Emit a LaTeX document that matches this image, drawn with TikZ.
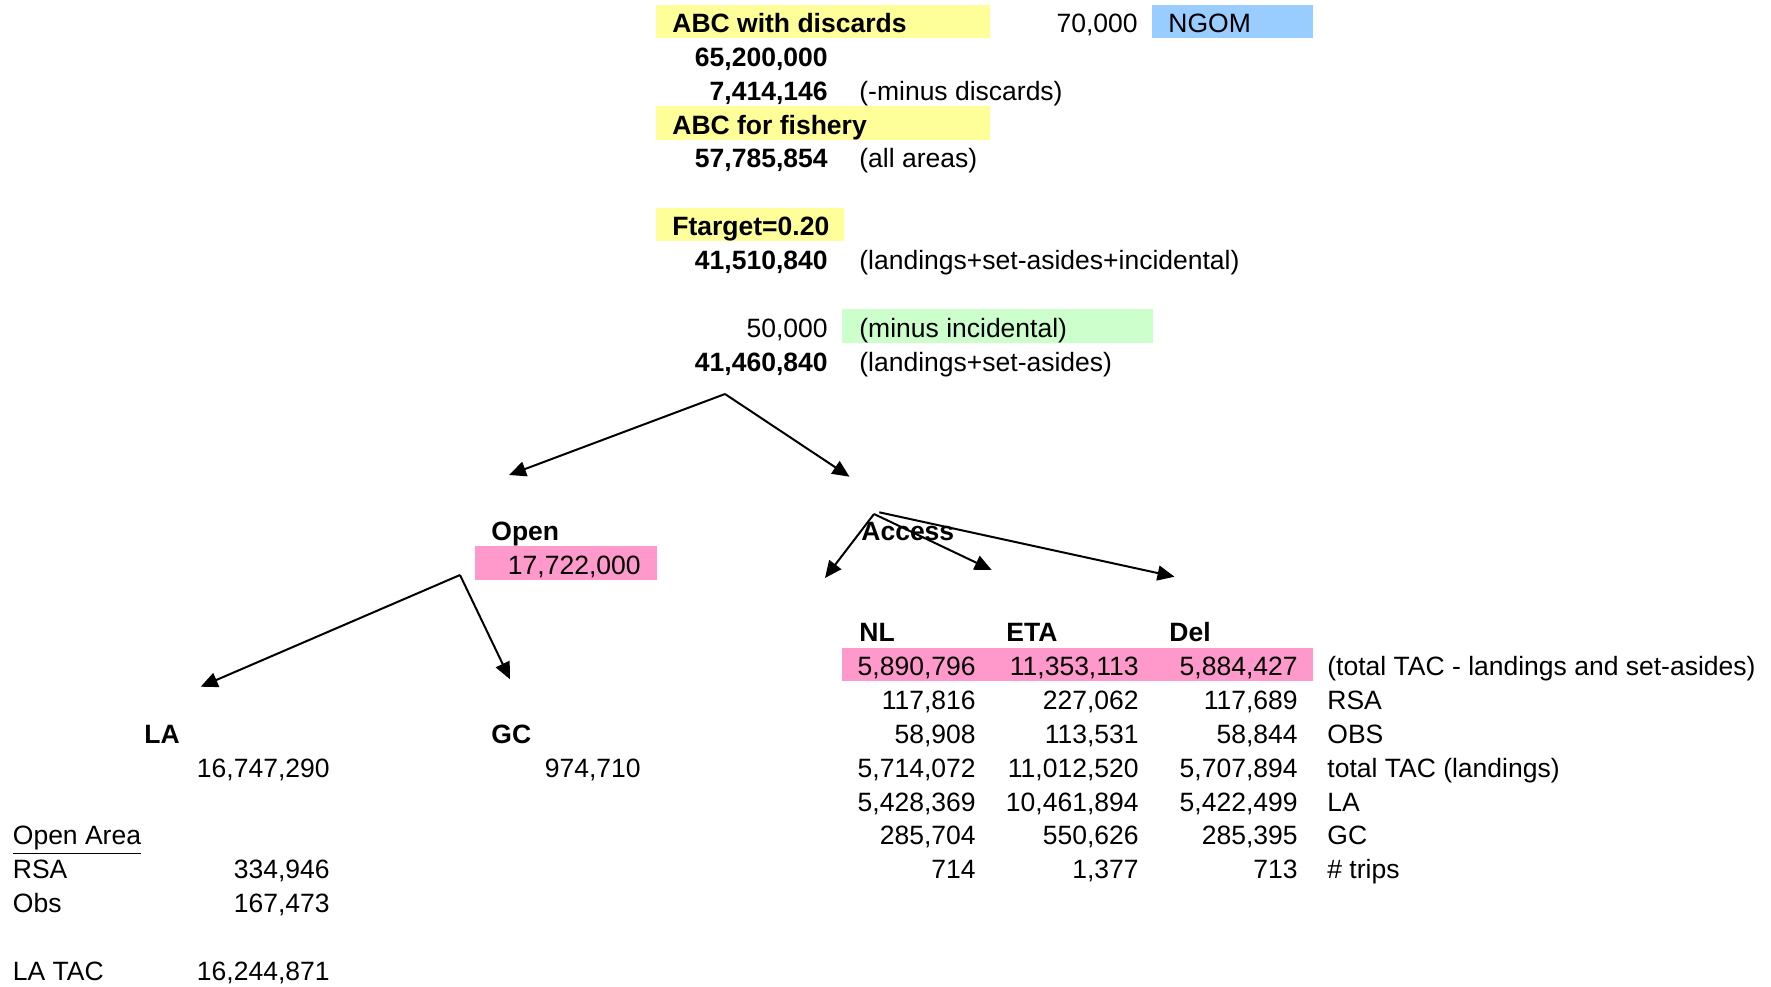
\documentclass[tikz,border=0pt]{standalone}
\usepackage{fontspec}
\setmainfont{Liberation Sans}
\usetikzlibrary{arrows.meta}
\definecolor{abcyel}{HTML}{FFFF99}
\definecolor{ngomblue}{HTML}{99CCFF}
\definecolor{incgreen}{HTML}{CCFFCC}
\definecolor{tacpink}{HTML}{FF99CC}
\newcommand\cellfont{\fontsize{13.25pt}{16pt}\selectfont}

\begin{document}
\begin{tikzpicture}[x=0.5pt,y=-0.5pt, font=\cellfont,
    every node/.style={inner sep=0pt},
    num/.style={anchor=base east},
    bnum/.style={anchor=base east, font=\cellfont\bfseries},
    lbl/.style={anchor=base west},
    hd/.style={anchor=base west, font=\cellfont\bfseries},
    arr/.style={-{Triangle[length=8.5pt,width=7.5pt]}, line width=1pt}]
  \useasboundingbox (0,0) rectangle (1771,986);
  % highlighted cells
  \fill[abcyel] (656,4.5) rectangle (990,38);
  \fill[ngomblue] (1152,4.5) rectangle (1313,38);
  \fill[abcyel] (656,106) rectangle (990,139.6);
  \fill[abcyel] (656,207.6) rectangle (844,241);
  \fill[incgreen] (842,309) rectangle (1153,342.7);
  \fill[tacpink] (474.5,546) rectangle (656.5,579.6);
  \fill[tacpink] (842,647.7) rectangle (1313,681.2);

  % ABC column
  \node[hd] (abcdisc) at (672,32.5) {ABC with discards};
  \node[num] (ngomval) at (1138,32.5) {70,000};
  \node[lbl] (ngom) at (1168,32.5) {NGOM};
  \node[bnum] (abcval) at (828,66.4) {65,200,000};
  \node[bnum] (discval) at (828,100.2) {7,414,146};
  \node[lbl] (disclbl) at (859,100.2) {(-minus discards)};
  \node[hd] (abcfish) at (672,134.1) {ABC for fishery};
  \node[bnum] (fishval) at (828,167.9) {57,785,854};
  \node[lbl] (fishlbl) at (859,167.9) {(all areas)};
  \node[hd] (ftarget) at (672,235.6) {Ftarget=0.20};
  \node[bnum] (ftval) at (828,269.5) {41,510,840};
  \node[lbl] (ftlbl) at (859,269.5) {(landings+set-asides+incidental)};
  \node[num] (incval) at (828,337.2) {50,000};
  \node[lbl] (inclbl) at (859,337.2) {(minus incidental)};
  \node[bnum] (landval) at (828,371) {41,460,840};
  \node[lbl] (landlbl) at (859,371) {(landings+set-asides)};

  \node[hd] (open) at (491,540.3) {Open};
  \node[num] (openval) at (641,574.1) {17,722,000};
  \node[hd] (access) at (861,540.3) {Access};

  % access areas
  \node[hd] (nl) at (859,641.8) {NL};
  \node[hd] (eta) at (1006,641.8) {ETA};
  \node[hd] (del) at (1169,641.8) {Del};
  \node[num] (nltac) at (976,675.7) {5,890,796};
  \node[num] (etatac) at (1139,675.7) {11,353,113};
  \node[num] (deltac) at (1298,675.7) {5,884,427};
  \node[lbl] (taclbl) at (1327,675.7) {(total TAC - landings and set-asides)};
  \node[num] (nlrsa) at (976,709.5) {117,816};
  \node[num] (etarsa) at (1139,709.5) {227,062};
  \node[num] (delrsa) at (1298,709.5) {117,689};
  \node[lbl] (rsalbl) at (1327,709.5) {RSA};
  \node[num] (nlobs) at (976,743.4) {58,908};
  \node[num] (etaobs) at (1139,743.4) {113,531};
  \node[num] (delobs) at (1298,743.4) {58,844};
  \node[lbl] (obslbl) at (1327,743.4) {OBS};
  \node[num] (nlland) at (976,777.2) {5,714,072};
  \node[num] (etaland) at (1139,777.2) {11,012,520};
  \node[num] (delland) at (1298,777.2) {5,707,894};
  \node[lbl] (landtaclbl) at (1327,777.2) {total TAC (landings)};
  \node[num] (nlla) at (976,811.1) {5,428,369};
  \node[num] (etala) at (1139,811.1) {10,461,894};
  \node[num] (della) at (1298,811.1) {5,422,499};
  \node[lbl] (lalbl) at (1327,811.1) {LA};
  \node[num] (nlgc) at (976,844.9) {285,704};
  \node[num] (etagc) at (1139,844.9) {550,626};
  \node[num] (delgc) at (1298,844.9) {285,395};
  \node[lbl] (gclbl) at (1327,844.9) {GC};
  \node[num] (nltrips) at (976,878.8) {714};
  \node[num] (etatrips) at (1139,878.8) {1,377};
  \node[num] (deltrips) at (1298,878.8) {713};
  \node[lbl] (tripslbl) at (1327,878.8) {\# trips};

  % open area
  \node[hd] (la) at (144,743.4) {LA};
  \node[hd] (gc) at (491,743.4) {GC};
  \node[num] (laval) at (330,777.2) {16,747,290};
  \node[num] (gcval) at (641,777.2) {974,710};
  \node[lbl] (openarea) at (12.5,844.9) {\underline{Open Area}};
  \node[lbl] (oarsa) at (12.5,878.8) {RSA};
  \node[num] (oarsaval) at (330,878.8) {334,946};
  \node[lbl] (oaobs) at (12.5,912.6) {Obs};
  \node[num] (oaobsval) at (330,912.6) {167,473};
  \node[lbl] (latac) at (12.5,980.3) {LA TAC};
  \node[num] (latacval) at (330,980.3) {16,244,871};

  % split arrows
  \coordinate (split) at (725,394);
  \coordinate (opentip) at (509,475);
  \coordinate (accesstip) at (849.5,476.7);
  \coordinate (accsplit) at (874,514);
  \coordinate (delsplit) at (879.3,512.3);
  \coordinate (nltip) at (825,578);
  \coordinate (etatip) at (991.7,570);
  \coordinate (deltip) at (1174.5,576.7);
  \coordinate (opensplit) at (460,575);
  \coordinate (latip) at (200.7,686.7);
  \coordinate (gctip) at (510,679.3);
  \draw[arr] (split) -- (opentip);
  \draw[arr] (split) -- (accesstip);
  \draw[arr] (accsplit) -- (nltip);
  \draw[arr] (accsplit) -- (etatip);
  \draw[arr] (delsplit) -- (deltip);
  \draw[arr] (opensplit) -- (latip);
  \draw[arr] (opensplit) -- (gctip);
\end{tikzpicture}
\end{document}
